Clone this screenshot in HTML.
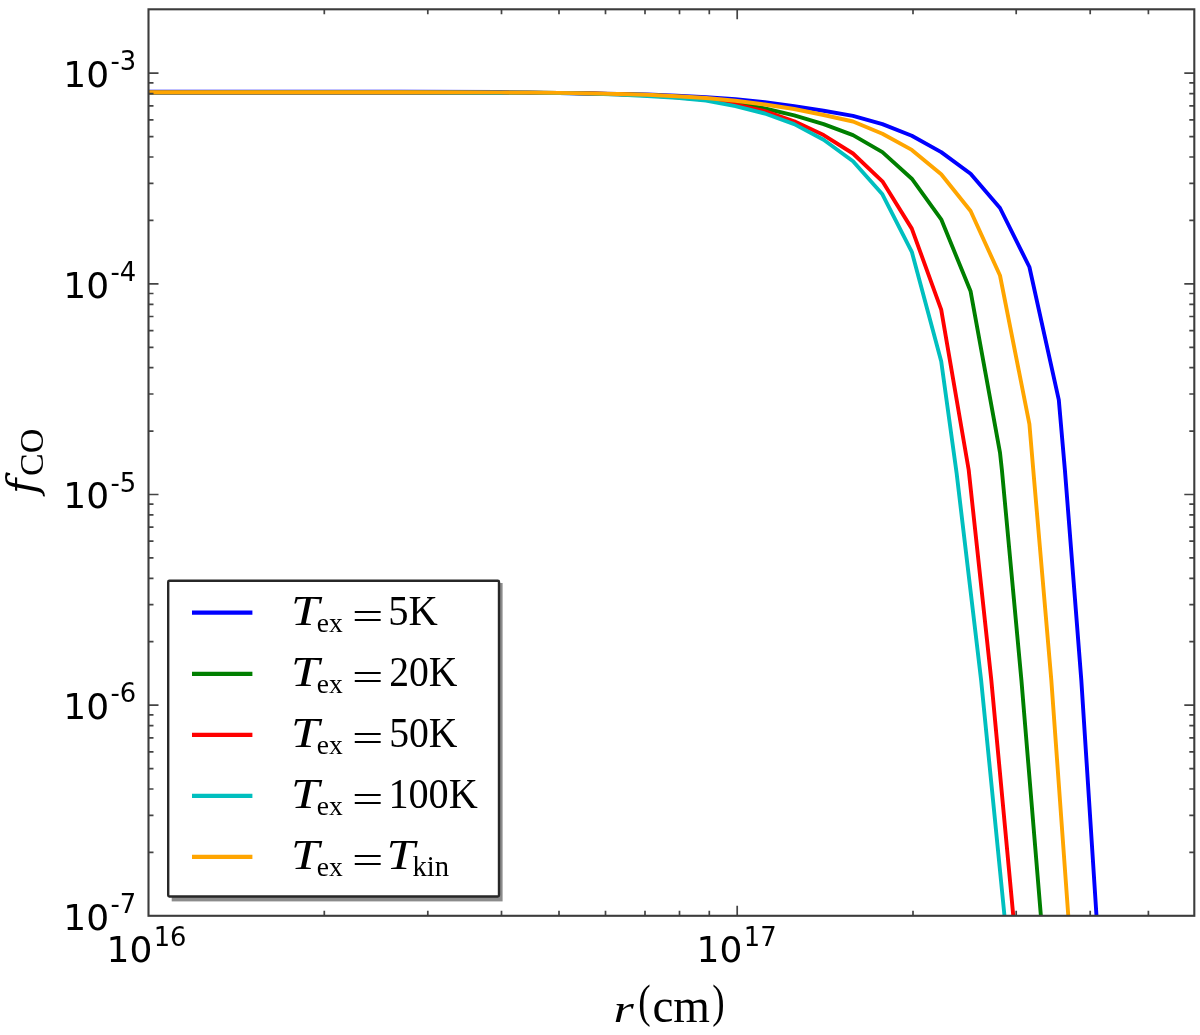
<!DOCTYPE html>
<html><head><meta charset="utf-8"><title>fCO</title>
<style>html,body{margin:0;padding:0;background:#fff}svg{display:block;filter:blur(0.55px)}.tk{font-family:"DejaVu Sans","Liberation Sans",sans-serif;fill:#000}.rm{font-family:"Liberation Serif",serif;fill:#000}.it{font-family:"Liberation Serif",serif;font-style:italic;fill:#000}</style></head><body>
<svg width="1200" height="1035" viewBox="0 0 1200 1035">
<rect width="1200" height="1035" fill="#fff"/>
<defs><clipPath id="ax"><rect x="148.5" y="9.3" width="1045.8" height="906.5"/></clipPath></defs>
<g clip-path="url(#ax)" fill="none" stroke-width="3.9" stroke-linejoin="round" stroke-linecap="butt">
<polyline stroke="#0000ff" points="148.5,91.8 400.0,91.8 500.0,92.0 529.6,92.7 559.0,93.1 588.4,93.5 617.8,94.0 647.2,94.4 676.6,95.6 706.0,97.3 735.4,99.3 764.8,102.1 794.2,106.1 823.6,110.7 853.0,115.9 882.4,124.1 911.8,135.8 941.2,152.1 970.6,173.8 1000.0,208.0 1029.4,267.0 1058.8,399.8 1064.9,470.0 1081.3,680.0 1096.5,916.0 1100.0,975.0"/>
<polyline stroke="#007f00" points="148.5,92.6 400.0,92.5 500.0,92.8 529.6,92.6 559.0,92.9 588.4,93.4 617.8,94.1 647.2,95.0 676.6,96.6 706.0,98.8 735.4,103.0 764.8,108.5 794.2,115.3 823.6,124.1 853.0,135.1 882.4,152.1 911.8,178.7 941.2,219.3 970.6,291.3 1000.0,452.6 1001.9,470.0 1021.4,680.0 1040.9,916.0 1045.0,966.0"/>
<polyline stroke="#ff0000" points="148.5,92.8 400.0,92.7 500.0,92.9 529.6,92.6 559.0,92.9 588.4,93.5 617.8,94.3 647.2,95.4 676.6,97.2 706.0,99.7 735.4,104.5 764.8,111.2 794.2,121.3 823.6,135.1 853.0,153.5 882.4,181.3 911.8,228.6 941.2,309.6 968.7,470.0 991.3,680.0 1013.3,916.0 1017.0,956.0"/>
<polyline stroke="#00bfbf" points="148.5,92.6 400.0,92.5 500.0,92.7 529.6,92.6 559.0,93.0 588.4,93.6 617.8,94.6 647.2,96.0 676.6,97.9 706.0,100.6 735.4,106.1 764.8,113.5 794.2,124.1 823.6,139.7 853.0,161.2 882.4,194.3 911.8,251.8 941.2,361.3 956.6,473.0 981.1,680.0 1004.5,916.0 1008.0,952.0"/>
<polyline stroke="#ffa500" points="148.5,92.3 400.0,92.2 500.0,92.4 529.6,92.6 559.0,92.9 588.4,93.4 617.8,94.0 647.2,94.8 676.6,96.2 706.0,98.0 735.4,100.8 764.8,104.5 794.2,109.0 823.6,115.0 853.0,121.5 882.4,133.7 911.8,149.9 941.2,174.2 970.6,211.0 1000.0,275.5 1029.4,424.2 1033.7,475.0 1051.3,680.0 1068.3,916.0 1072.0,970.0"/>
</g>
<g stroke="#444" stroke-width="1.7" fill="none">
<path d="M324.3 915.8v-5M324.3 9.3v5"/>
<path d="M427.8 915.8v-5M427.8 9.3v5"/>
<path d="M501.5 915.8v-5M501.5 9.3v5"/>
<path d="M559.0 915.8v-5M559.0 9.3v5"/>
<path d="M605.5 915.8v-5M605.5 9.3v5"/>
<path d="M645.0 915.8v-5M645.0 9.3v5"/>
<path d="M679.5 915.8v-5M679.5 9.3v5"/>
<path d="M709.3 915.8v-5M709.3 9.3v5"/>
<path d="M737.2 915.8v-10M737.2 9.3v10"/>
<path d="M913.0 915.8v-5M913.0 9.3v5"/>
<path d="M1016.2 915.8v-5M1016.2 9.3v5"/>
<path d="M1090.2 915.8v-5M1090.2 9.3v5"/>
<path d="M1148.4 915.8v-5M1148.4 9.3v5"/>
<path d="M148.5 852.4h5M1194.3 852.4h-5"/>
<path d="M148.5 815.3h5M1194.3 815.3h-5"/>
<path d="M148.5 789.0h5M1194.3 789.0h-5"/>
<path d="M148.5 768.6h5M1194.3 768.6h-5"/>
<path d="M148.5 751.9h5M1194.3 751.9h-5"/>
<path d="M148.5 737.8h5M1194.3 737.8h-5"/>
<path d="M148.5 725.6h5M1194.3 725.6h-5"/>
<path d="M148.5 714.8h5M1194.3 714.8h-5"/>
<path d="M148.5 705.2h10M1194.3 705.2h-10"/>
<path d="M148.5 641.7h5M1194.3 641.7h-5"/>
<path d="M148.5 604.6h5M1194.3 604.6h-5"/>
<path d="M148.5 578.3h5M1194.3 578.3h-5"/>
<path d="M148.5 557.9h5M1194.3 557.9h-5"/>
<path d="M148.5 541.2h5M1194.3 541.2h-5"/>
<path d="M148.5 527.1h5M1194.3 527.1h-5"/>
<path d="M148.5 514.9h5M1194.3 514.9h-5"/>
<path d="M148.5 504.1h5M1194.3 504.1h-5"/>
<path d="M148.5 494.5h10M1194.3 494.5h-10"/>
<path d="M148.5 431.1h5M1194.3 431.1h-5"/>
<path d="M148.5 394.0h5M1194.3 394.0h-5"/>
<path d="M148.5 367.7h5M1194.3 367.7h-5"/>
<path d="M148.5 347.3h5M1194.3 347.3h-5"/>
<path d="M148.5 330.6h5M1194.3 330.6h-5"/>
<path d="M148.5 316.5h5M1194.3 316.5h-5"/>
<path d="M148.5 304.3h5M1194.3 304.3h-5"/>
<path d="M148.5 293.5h5M1194.3 293.5h-5"/>
<path d="M148.5 283.9h10M1194.3 283.9h-10"/>
<path d="M148.5 220.4h5M1194.3 220.4h-5"/>
<path d="M148.5 183.3h5M1194.3 183.3h-5"/>
<path d="M148.5 157.0h5M1194.3 157.0h-5"/>
<path d="M148.5 136.6h5M1194.3 136.6h-5"/>
<path d="M148.5 119.9h5M1194.3 119.9h-5"/>
<path d="M148.5 105.8h5M1194.3 105.8h-5"/>
<path d="M148.5 93.6h5M1194.3 93.6h-5"/>
<path d="M148.5 82.8h5M1194.3 82.8h-5"/>
<path d="M148.5 73.2h10M1194.3 73.2h-10"/>
</g>
<rect x="148.5" y="9.3" width="1045.8" height="906.5" fill="none" stroke="#3c3c3c" stroke-width="2.1"/>
<text class="tk" x="63.3" y="929.5" font-size="36">10</text>
<text class="tk" x="110.5" y="913.0" font-size="25.8">-7</text>
<text class="tk" x="63.3" y="718.9" font-size="36">10</text>
<text class="tk" x="110.5" y="702.4" font-size="25.8">-6</text>
<text class="tk" x="63.3" y="508.2" font-size="36">10</text>
<text class="tk" x="110.5" y="491.7" font-size="25.8">-5</text>
<text class="tk" x="63.3" y="297.6" font-size="36">10</text>
<text class="tk" x="110.5" y="281.1" font-size="25.8">-4</text>
<text class="tk" x="63.3" y="86.9" font-size="36">10</text>
<text class="tk" x="110.5" y="70.4" font-size="25.8">-3</text>
<text class="tk" x="106.5" y="962.4" font-size="36">10</text>
<text class="tk" x="153.7" y="945.9" font-size="25.8">16</text>
<text class="tk" x="696.6" y="962.4" font-size="36">10</text>
<text class="tk" x="743.8" y="945.9" font-size="25.8">17</text>
<text class="it" x="613.6" y="1021.6" font-size="38.5" textLength="20.3" lengthAdjust="spacingAndGlyphs">r</text>
<text class="rm" x="638.2" y="1017" font-size="46" textLength="12.4" lengthAdjust="spacingAndGlyphs">(</text>
<text class="rm" x="652.4" y="1022" font-size="48.5" textLength="57.6" lengthAdjust="spacingAndGlyphs">cm</text>
<text class="rm" x="712.2" y="1017" font-size="46" textLength="12.4" lengthAdjust="spacingAndGlyphs">)</text>
<g transform="translate(36.0,497) rotate(-90)">
<text x="3.0" y="-0.3" font-size="41.8" style="font-family:'DejaVu Serif','Liberation Serif',serif;font-style:italic" fill="#000">f</text>
<text class="rm" x="21.0" y="7.4" font-size="34">CO</text>
</g>
<rect x="171.7" y="583" width="330.9" height="318.4" fill="#8b8b8b"/>
<rect x="168.2" y="580.7" width="330.8" height="315.79999999999995" rx="1.2" fill="#fff" stroke="#272727" stroke-width="2.4"/>
<path d="M192 612.7H252.4" stroke="#0000ff" stroke-width="4.2" fill="none"/>
<text class="it" x="291" y="625.0" font-size="41.5" textLength="28.3" lengthAdjust="spacingAndGlyphs">T</text>
<text class="rm" x="316.8" y="631.6" font-size="27.5">ex</text>
<text class="rm" x="352.1" y="628.6" font-size="37" textLength="31.4" lengthAdjust="spacingAndGlyphs">=</text>
<text class="rm" x="388.2" y="625.0" font-size="41.5" textLength="49.6" lengthAdjust="spacingAndGlyphs">5K</text>
<path d="M192 673.8H252.4" stroke="#007f00" stroke-width="4.2" fill="none"/>
<text class="it" x="291" y="686.1" font-size="41.5" textLength="28.3" lengthAdjust="spacingAndGlyphs">T</text>
<text class="rm" x="316.8" y="692.7" font-size="27.5">ex</text>
<text class="rm" x="352.1" y="689.7" font-size="37" textLength="31.4" lengthAdjust="spacingAndGlyphs">=</text>
<text class="rm" x="389.2" y="686.1" font-size="41.5" textLength="68.3" lengthAdjust="spacingAndGlyphs">20K</text>
<path d="M192 734.8H252.4" stroke="#ff0000" stroke-width="4.2" fill="none"/>
<text class="it" x="291" y="747.2" font-size="41.5" textLength="28.3" lengthAdjust="spacingAndGlyphs">T</text>
<text class="rm" x="316.8" y="753.8" font-size="27.5">ex</text>
<text class="rm" x="352.1" y="750.8" font-size="37" textLength="31.4" lengthAdjust="spacingAndGlyphs">=</text>
<text class="rm" x="389.2" y="747.2" font-size="41.5" textLength="68.3" lengthAdjust="spacingAndGlyphs">50K</text>
<path d="M192 795.9H252.4" stroke="#00bfbf" stroke-width="4.2" fill="none"/>
<text class="it" x="291" y="808.3" font-size="41.5" textLength="28.3" lengthAdjust="spacingAndGlyphs">T</text>
<text class="rm" x="316.8" y="814.9" font-size="27.5">ex</text>
<text class="rm" x="352.1" y="811.9" font-size="37" textLength="31.4" lengthAdjust="spacingAndGlyphs">=</text>
<text class="rm" x="388.4" y="808.3" font-size="41.5" textLength="89.4" lengthAdjust="spacingAndGlyphs">100K</text>
<path d="M192 856.9H252.4" stroke="#ffa500" stroke-width="4.2" fill="none"/>
<text class="it" x="291" y="869.4" font-size="41.5" textLength="28.3" lengthAdjust="spacingAndGlyphs">T</text>
<text class="rm" x="316.8" y="876.0" font-size="27.5">ex</text>
<text class="rm" x="352.1" y="873.0" font-size="37" textLength="31.4" lengthAdjust="spacingAndGlyphs">=</text>
<text class="it" x="386.5" y="869.4" font-size="41.5" textLength="28.3" lengthAdjust="spacingAndGlyphs">T</text>
<text class="rm" x="412.4" y="876.0" font-size="28.6">kin</text>
</svg></body></html>
